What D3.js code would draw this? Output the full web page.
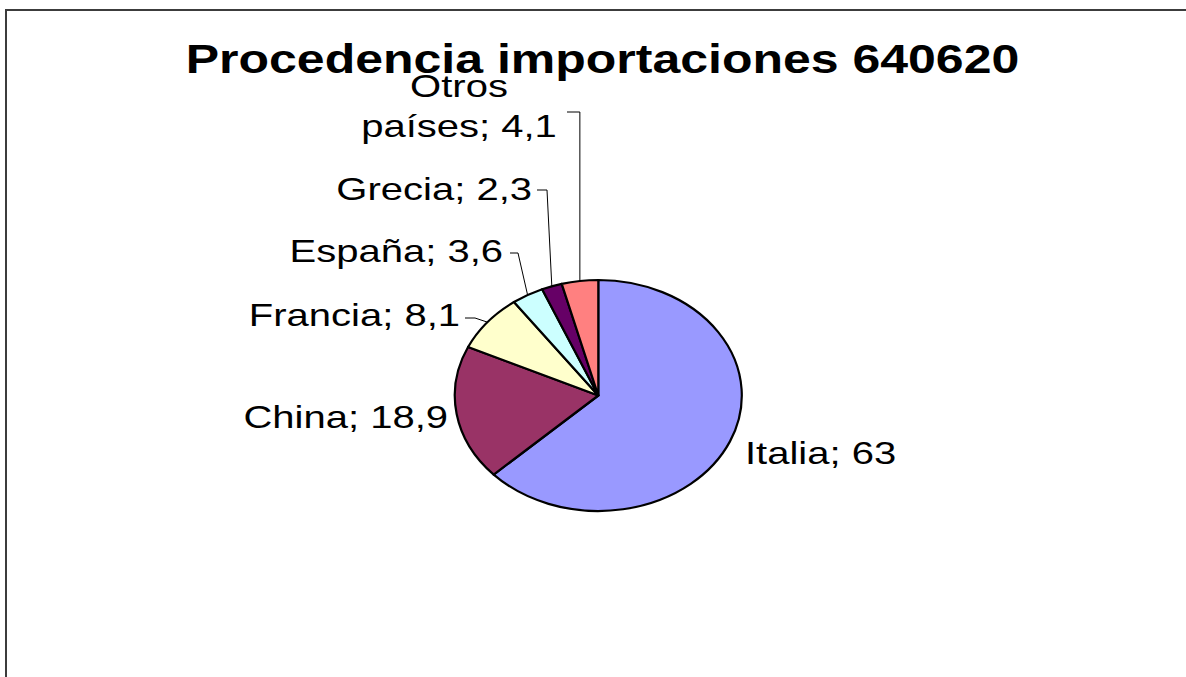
<!DOCTYPE html>
<html>
<head>
<meta charset="utf-8">
<script src="https://cdn.jsdelivr.net/npm/d3@7"></script>
<style>
  html, body { margin: 0; padding: 0; background: #fff; }
  svg { display: block; }
  text { font-family: "Liberation Sans", Arial, sans-serif; fill: #000; }
</style>
</head>
<body>
<svg id="chart" width="1186" height="677"></svg>
<script>
// Import origin shares for tariff heading 640620 (percent)
const categories = ["Italia", "China", "Francia", "España", "Grecia", "Otros países"];
const values = [63, 18.9, 8.1, 3.6, 2.3, 4.1];
const sliceColors = ["#9999FF", "#993366", "#FFFFCC", "#CCFFFF", "#660066", "#FF8080"];
const titleText = "Procedencia importaciones 640620";

// Layout
const W = 1186, H = 677;
const cx = 598.3, cy = 395.5;
const R = 115.5;          // vertical radius
const sx = 1.2424;        // horizontal stretch of the plot
const textSx = 1.25;      // horizontal stretch of the type
const labelSize = 32;

// Label placement: anchor, lines with baselines, optional leader (start point + elbow x)
const labelLayout = [
  { x: 745, anchor: "start", lines: [[464, "Italia; 63"]] },
  { x: 448, anchor: "end",   lines: [[428, "China; 18,9"]] },
  { x: 460, anchor: "end",   lines: [[326, "Francia; 8,1"]], leader: [465, 318, 475] },
  { x: 503, anchor: "end",   lines: [[261.5, "España; 3,6"]], leader: [510, 253, 518] },
  { x: 532, anchor: "end",   lines: [[199.5, "Grecia; 2,3"]], leader: [537, 190, 547] },
  { x: 459, anchor: "middle", lines: [[97, "Otros"], [137, "países; 4,1"]], leader: [567, 112, null] }
];

const fmt = v => String(v).replace(".", ",");

const svg = d3.select("#chart");

svg.append("rect")
  .attr("x", 0).attr("y", 0).attr("width", W).attr("height", H)
  .attr("fill", "#fff");

// Chart frame
svg.append("rect")
  .attr("x", 6).attr("y", 10)
  .attr("width", 1220).attr("height", 720)
  .attr("fill", "none")
  .attr("stroke", "#3c3c3c")
  .attr("stroke-width", 2);

// Title
svg.append("text")
  .attr("transform", `translate(602.5,73) scale(${textSx},1)`)
  .attr("text-anchor", "middle")
  .style("font-size", "40px")
  .style("font-weight", "bold")
  .text(titleText);

// Pie
const pie = d3.pie().sort(null).value(d => d);
const arcs = pie(values);
const arc = d3.arc().innerRadius(0).outerRadius(R);

const gPie = svg.append("g")
  .attr("transform", `translate(${cx},${cy}) scale(${sx},1)`);

gPie.selectAll("path")
  .data(arcs)
  .join("path")
  .attr("d", arc)
  .attr("fill", (d, i) => sliceColors[i])
  .attr("stroke", "#000")
  .attr("stroke-width", 2.2)
  .attr("stroke-linejoin", "round")
  .attr("vector-effect", "non-scaling-stroke");

// Point on the outer edge at the middle of a slice
function edgePoint(d) {
  const a = (d.startAngle + d.endAngle) / 2;
  return [cx + sx * R * Math.sin(a), cy - R * Math.cos(a)];
}

// Leader lines
labelLayout.forEach((L, i) => {
  if (!L.leader) return;
  const [x0, y0, elbowX] = L.leader;
  const [ex, ey] = edgePoint(arcs[i]);
  const ex1 = elbowX == null ? ex : elbowX;
  svg.append("path")
    .attr("d", d3.line()([[x0, y0], [ex1, y0], [ex, ey]]))
    .attr("fill", "none")
    .attr("stroke", "#000")
    .attr("stroke-width", 1);
});

// Data labels
labelLayout.forEach((L, i) => {
  L.lines.forEach(([by, str]) => {
    svg.append("text")
      .attr("transform", `translate(${L.x},${by}) scale(${textSx},1)`)
      .attr("text-anchor", L.anchor)
      .style("font-size", labelSize + "px")
      .text(str);
  });
});

// Keep label text tied to the values
console.assert(labelLayout[0].lines[0][1] === `${categories[0]}; ${fmt(values[0])}`);
</script>
</body>
</html>
